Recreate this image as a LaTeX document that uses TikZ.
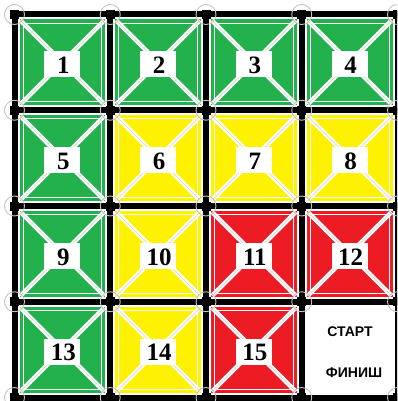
\documentclass[tikz,border=0pt]{standalone}
\usepackage{fontspec}
\setmainfont{Liberation Serif}
\newfontfamily\labelfont{Liberation Sans}
\definecolor{pgreen}{HTML}{22B14C}
\definecolor{pyellow}{HTML}{FFF200}
\definecolor{pred}{HTML}{ED1C24}
\definecolor{ringgray}{HTML}{C4C4C4}
\begin{document}
\begin{tikzpicture}[x=1pt,y=-1pt,
  numtext/.style={font=\bfseries\fontsize{25}{25}\selectfont, inner sep=0pt, text=black},
  wordtext/.style={font=\labelfont\bfseries\fontsize{14}{14}\selectfont, inner sep=0pt},
  gridline/.style={line width=6pt, black},
  ring/.style={draw=ringgray, line width=0.9pt},
  diag/.style={white, line width=4.5pt},
  diagcore/.style={black!18, line width=0.5pt}]
\useasboundingbox (0,0) rectangle (397,401);
\clip (0,0) rectangle (397,401);
\fill[white] (0,0) rectangle (397,401);
\def\s{95.75}
\def\o{14.5}
% cells
\foreach \r/\c/\col/\num in {0/0/pgreen/1,0/1/pgreen/2,0/2/pgreen/3,0/3/pgreen/4,
  1/0/pgreen/5,1/1/pyellow/6,1/2/pyellow/7,1/3/pyellow/8,
  2/0/pgreen/9,2/1/pyellow/10,2/2/pred/11,2/3/pred/12,
  3/0/pgreen/13,3/1/pyellow/14,3/2/pred/15}{
  \pgfmathsetmacro{\xa}{\o+\c*\s}
  \pgfmathsetmacro{\ya}{\o+\r*\s}
  \pgfmathsetmacro{\xb}{\xa+\s}
  \pgfmathsetmacro{\yb}{\ya+\s}
  \pgfmathsetmacro{\cx}{\xa+\s/2}
  \pgfmathsetmacro{\cy}{\ya+\s/2}
  \fill[\col] (\xa+5,\ya+5) rectangle (\xb-5,\yb-5);
  \draw[white, line width=0.7pt] (\xa+8.5,\ya+8.5) rectangle (\xb-8.5,\yb-8.5);
  \draw[diag] (\xa+6,\ya+6) -- (\xb-6,\yb-6);
  \draw[diag] (\xb-6,\ya+6) -- (\xa+6,\yb-6);
  \draw[diagcore] (\xa+6,\ya+6) -- (\xb-6,\yb-6);
  \draw[diagcore] (\xb-6,\ya+6) -- (\xa+6,\yb-6);
  \fill[white] (\cx-18,\cy-11) rectangle (\cx+18,\cy+15);
  \node[numtext] (n\num) at (\cx+1,\cy+3) {\num};
}
% start / finish cell labels
\node[wordtext] (start) at (350,332) {СТАРТ};
\node[wordtext] (finish) at (354,372.5) {ФИНИШ};
% grid lines
\foreach \i in {0,...,4}{
  \draw[gridline] (\o+\i*\s,\o-3) -- (\o+\i*\s,\o+4*\s+3);
  \draw[gridline] (\o-3,\o+\i*\s) -- (\o+4*\s+3,\o+\i*\s);
}
\foreach \i in {0,...,4}{
  \foreach \j in {0,...,4}{
    \fill[black] (\o+\i*\s-4.5,\o+\j*\s-4.5) rectangle (\o+\i*\s+4.5,\o+\j*\s+4.5);
    \draw[ring] (\o+\i*\s,\o+\j*\s) circle[radius=10];
  }
}
\end{tikzpicture}
\end{document}
